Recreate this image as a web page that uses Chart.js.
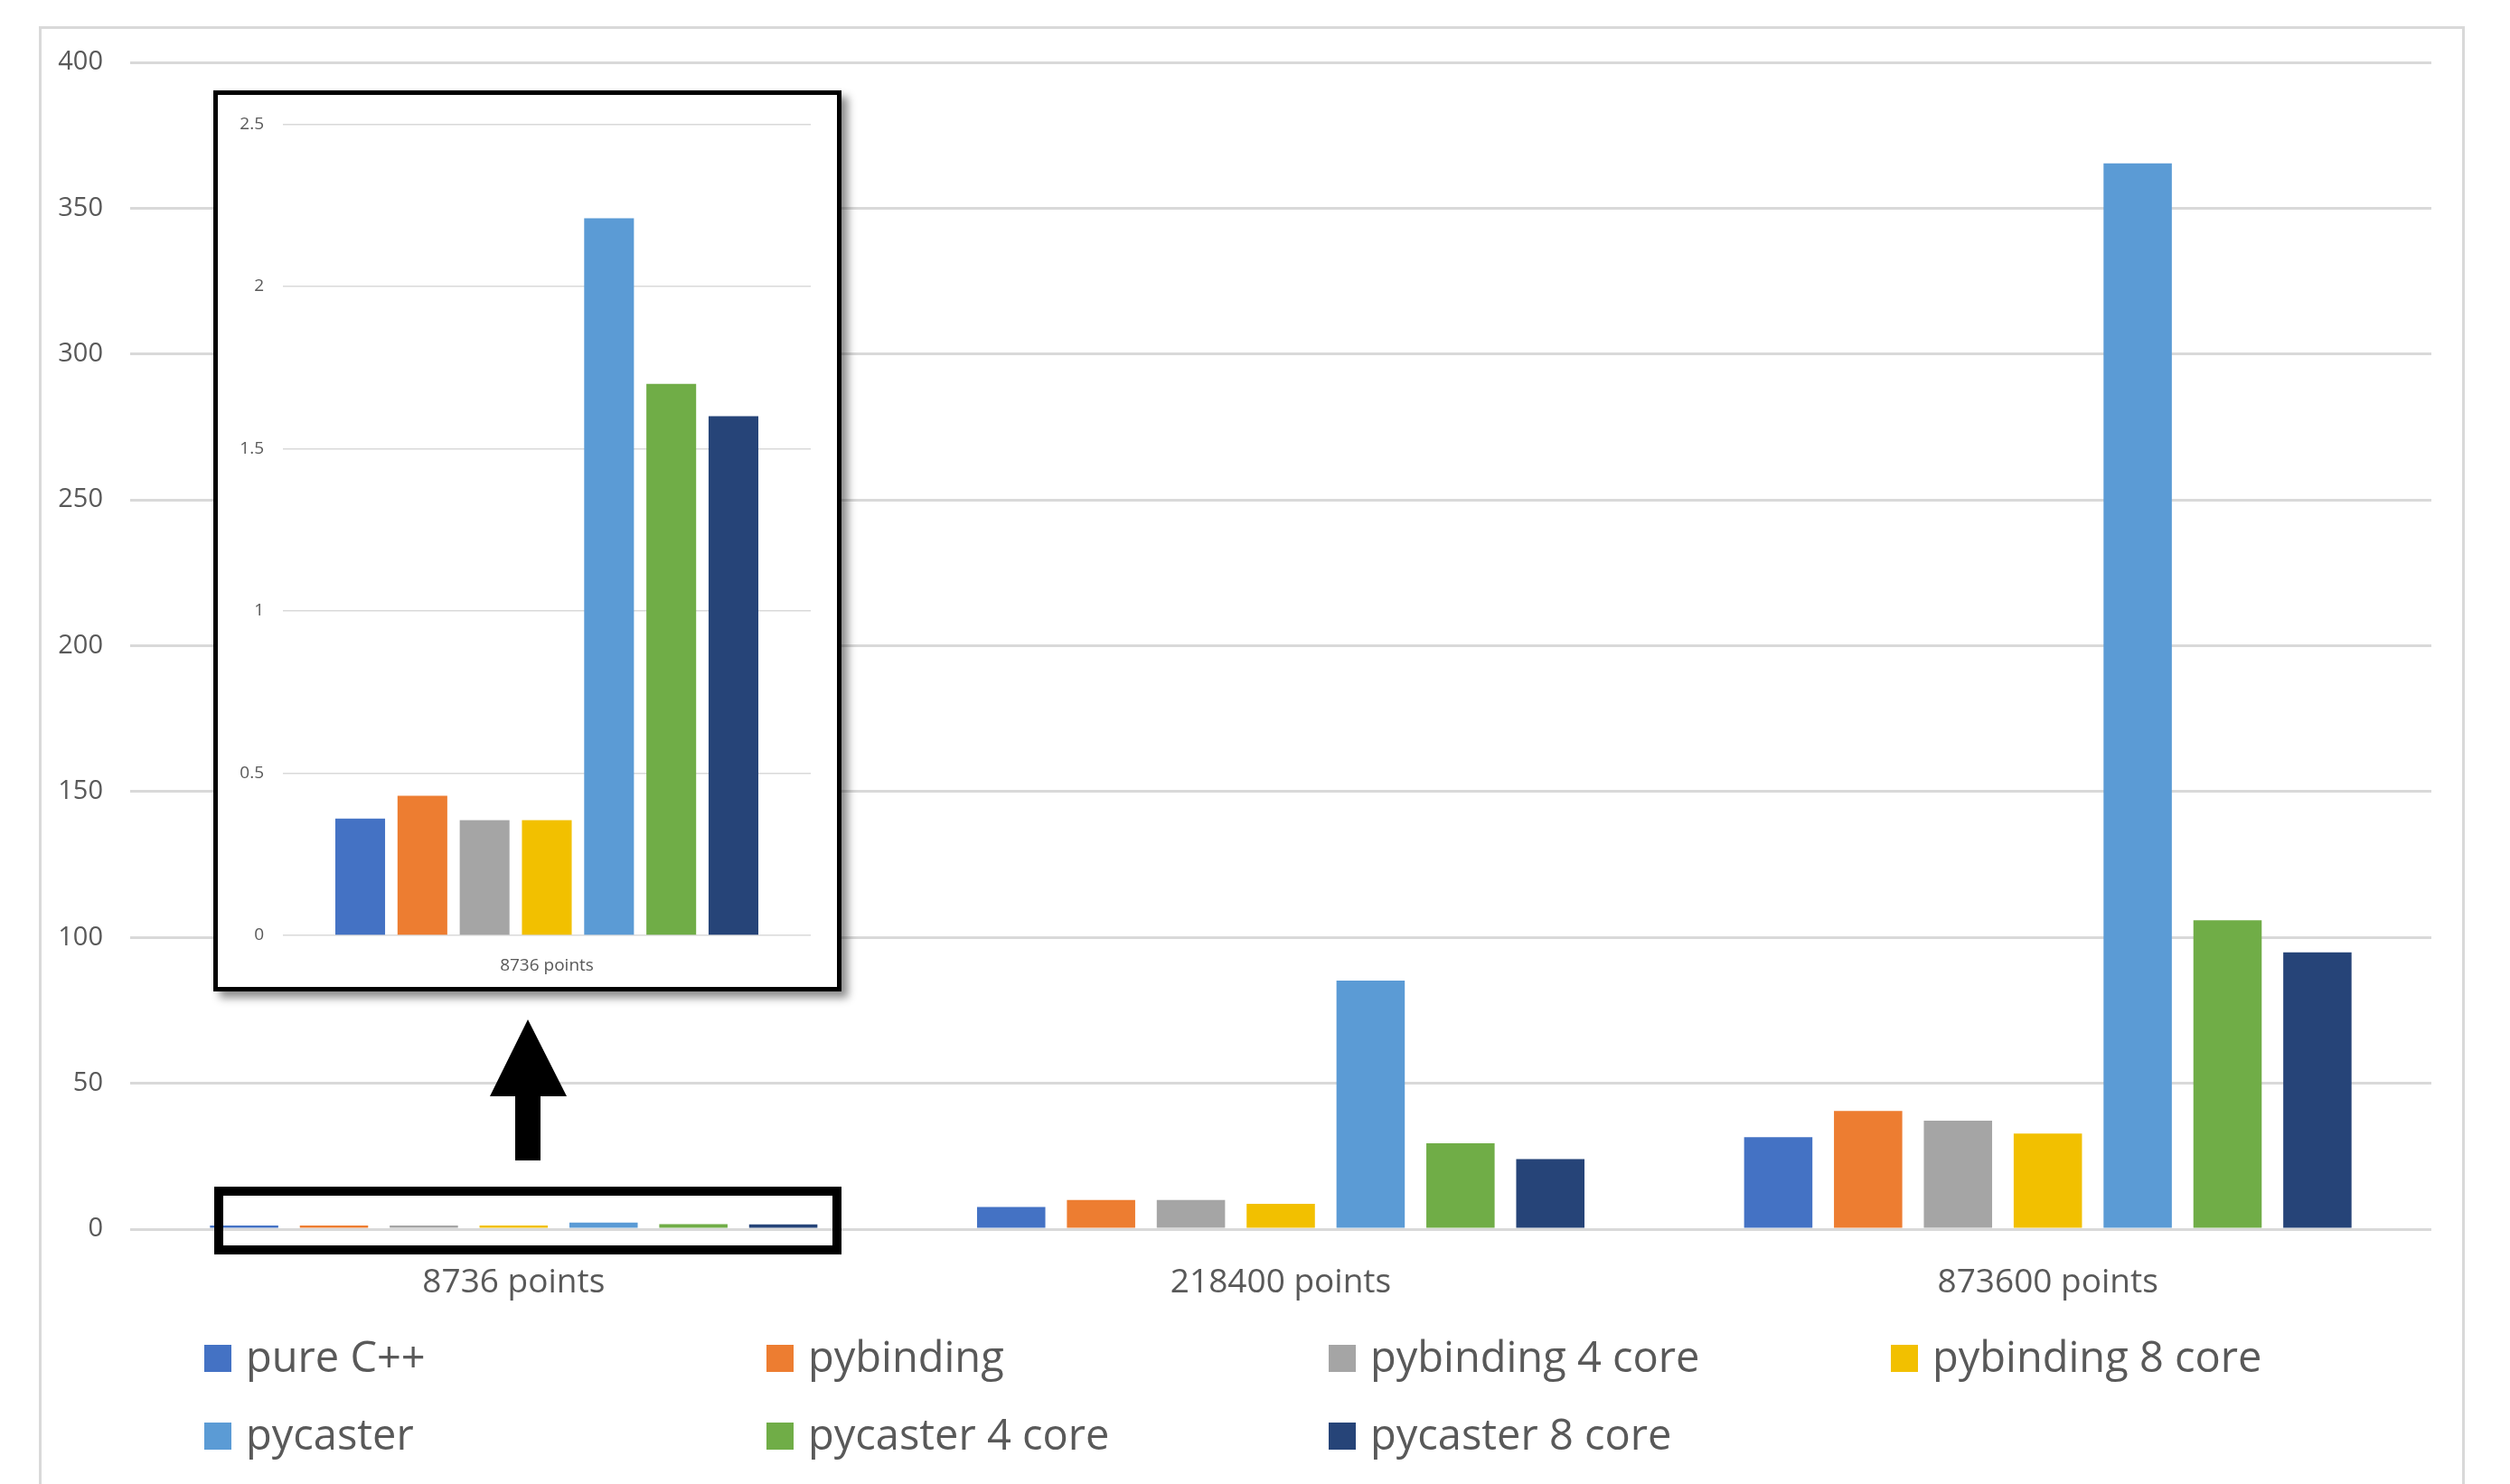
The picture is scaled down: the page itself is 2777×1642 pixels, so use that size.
<!DOCTYPE html>
<html>
<head>
<meta charset="utf-8">
<script src="https://cdn.jsdelivr.net/npm/chart.js@4.4.1/dist/chart.umd.min.js"></script>
<style>
  html, body { margin: 0; padding: 0; background: #fff; }
  body { width: 2777px; height: 1642px; position: relative; overflow: hidden; font-family: "Open Sans", sans-serif; }
  #frame { position: absolute; left: 43px; top: 29px; width: 2684px; height: 1700px; border: 3px solid #d9d9d9; box-sizing: border-box; }
  #main { position: absolute; left: 0; top: 0; }
  #inset { position: absolute; left: 236px; top: 100px; width: 695px; height: 997px; border: 5px solid #000; box-sizing: border-box; background: #fff; box-shadow: 7px 7px 9px rgba(0,0,0,0.45); }
  #insetCanvas { position: absolute; left: 0; top: 0; }
  #marks { position: absolute; left: 0; top: 0; pointer-events: none; }
  .leg { position: absolute; font-size: 47px; line-height: 60px; color: #595959; white-space: nowrap; }
  .leg .sw { display: inline-block; width: 30px; height: 30px; margin-right: 16px; vertical-align: baseline; }
</style>
</head>
<body>
<div id="frame"></div>
<canvas id="main" width="2777" height="1642"></canvas>
<svg id="marks" width="2777" height="1642">
  <rect x="242" y="1318" width="684" height="65" fill="none" stroke="#000" stroke-width="10"/>
  <polygon points="584,1128 627,1213 598,1213 598,1284 570,1284 570,1213 542,1213" fill="#000"/>
</svg>
<div id="inset"><canvas id="insetCanvas" width="685" height="987"></canvas></div>
<div id="legend"></div>
<script>
'use strict';

// ===== データ =====
const categories = ['8736 points', '218400 points', '873600 points'];
const seriesNames = ['pure C++', 'pybinding', 'pybinding 4 core', 'pybinding 8 core',
                     'pycaster', 'pycaster 4 core', 'pycaster 8 core'];
const seriesColors = ['#4472c4', '#ed7d31', '#a5a5a5', '#f2c000', '#5b9bd5', '#70ad47', '#264478'];

const pureCpp    = [0.36,  7.6,  31.5];
const pybinding  = [0.43, 10.0,  40.5];
const pybinding4 = [0.355, 10.0, 37.2];
const pybinding8 = [0.355, 8.7,  32.8];
const pycaster   = [2.21, 85.2, 365.4];
const pycaster4  = [1.70, 29.4, 105.9];
const pycaster8  = [1.60, 24.0,  94.9];
const seriesValues = [pureCpp, pybinding, pybinding4, pybinding8, pycaster, pycaster4, pycaster8];

const mainMax = 400, mainStep = 50;
const insetMax = 2.5, insetStep = 0.5;

const TEXT = '#595959';
const GRID = '#d9d9d9';
const FONT = '"Open Sans", sans-serif';

Chart.defaults.animation = false;
Chart.defaults.font.family = FONT;

// ===== メイングラフ =====
new Chart(document.getElementById('main'), {
  type: 'bar',
  data: {
    labels: categories,
    datasets: seriesNames.map((name, i) => ({
      label: name,
      data: seriesValues[i],
      backgroundColor: seriesColors[i],
      categoryPercentage: 0.82,
      barPercentage: 0.76,
      minBarLength: 4,
    })),
  },
  options: {
    responsive: false,
    layout: { padding: { top: 69, right: 87, bottom: 0, left: 0 } },
    plugins: { legend: { display: false }, tooltip: { enabled: false } },
    scales: {
      x: {
        grid: { display: false },
        border: { display: false },
        ticks: { color: TEXT, font: { size: 37 }, padding: 29 },
        afterFit: s => { s.height = 282; },
      },
      y: {
        min: 0, max: mainMax,
        grid: { color: GRID, lineWidth: 3, drawTicks: false },
        border: { display: false },
        ticks: { stepSize: mainStep, color: TEXT, font: { size: 29 }, padding: 30 },
        afterFit: s => { s.width = 144; },
      },
    },
  },
});

// ===== 拡大図（8736 points） =====
new Chart(document.getElementById('insetCanvas'), {
  type: 'bar',
  data: {
    labels: [categories[0]],
    datasets: seriesNames.map((name, i) => ({
      label: name,
      data: [seriesValues[i][0]],
      backgroundColor: seriesColors[i],
      categoryPercentage: 0.825,
      barPercentage: 0.8,
    })),
  },
  options: {
    responsive: false,
    layout: { padding: { top: 27, right: 29, bottom: 0, left: 0 } },
    plugins: { legend: { display: false }, tooltip: { enabled: false } },
    scales: {
      x: {
        grid: { display: false },
        border: { display: false },
        ticks: { color: TEXT, font: { size: 19 }, padding: 14 },
        afterFit: s => { s.height = 57; },
      },
      y: {
        min: 0, max: insetMax,
        grid: { color: GRID, lineWidth: 1.5, drawTicks: false },
        border: { display: false },
        ticks: { stepSize: insetStep, color: TEXT, font: { size: 19 }, padding: 21,
                 callback: v => String(v) },
        afterFit: s => { s.width = 72; },
      },
    },
  },
});

// ===== 凡例（4列グリッド） =====
const legend = document.getElementById('legend');
seriesNames.forEach((name, i) => {
  const col = i % 4, row = Math.floor(i / 4);
  const el = document.createElement('div');
  el.className = 'leg';
  el.style.left = (226 + col * 622) + 'px';
  el.style.top = (1470 + row * 86) + 'px';
  const sw = document.createElement('span');
  sw.className = 'sw';
  sw.style.background = seriesColors[i];
  el.appendChild(sw);
  el.appendChild(document.createTextNode(name));
  legend.appendChild(el);
});
</script>
</body>
</html>
